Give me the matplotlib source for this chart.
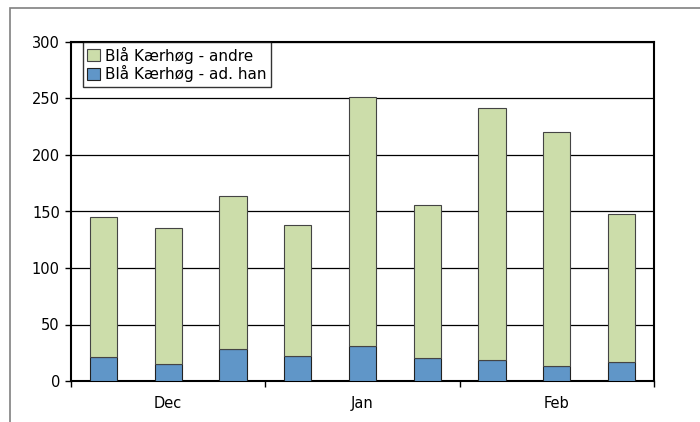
import matplotlib
matplotlib.use("Agg")
import matplotlib.pyplot as plt
from matplotlib.patches import Rectangle
import numpy as np

months = ["Dec", "Jan", "Feb"]
totals = [145, 135, 164, 138, 251, 156, 242, 220, 148]
adult_males = [21, 15, 28, 22, 31, 20, 19, 13, 17]
others = [t - a for t, a in zip(totals, adult_males)]
yticks = [0, 50, 100, 150, 200, 250, 300]

W, H = 700, 422
fig = plt.figure(figsize=(W / 100, H / 100), dpi=100)
plt.rcParams['font.family'] = ['DejaVu Sans']

# outer frame
fig.patches.append(Rectangle((10 / W, -0.1), 1.2, 1 - 8 / H + 0.1, transform=fig.transFigure,
                             fill=False, edgecolor='#808080', linewidth=1.2))

ax = fig.add_axes([71 / W, 1 - 381 / H, (654 - 71) / W, (381 - 42) / H])
x = np.arange(len(totals))
green = '#CCDDAA'
blue = '#6096C8'
ax.bar(x, adult_males, width=0.42, color=blue, edgecolor='#222222', linewidth=0.8,
       label='Blå Kærhøg - ad. han', zorder=3)
ax.bar(x, others, bottom=adult_males, width=0.42, color=green, edgecolor='#444444',
       linewidth=0.8, label='Blå Kærhøg - andre', zorder=3)

ax.set_xlim(-0.5, len(totals) - 0.5)
ax.set_ylim(0, 300)
ax.set_yticks(yticks)
ax.set_yticklabels([str(v) for v in yticks], fontsize=10.5)
ax.yaxis.grid(True, color='black', linewidth=0.9, zorder=0)
ax.set_axisbelow(True)

ax.set_xticks([-0.5, 2.5, 5.5, 8.5])
ax.set_xticklabels([])
ax.set_xticks([1, 4, 7], minor=True)
ax.set_xticklabels(months, minor=True, fontsize=10.5)
ax.tick_params(axis='x', which='minor', length=0, pad=11)
ax.tick_params(axis='x', which='major', direction='out', length=4, width=1)
ax.tick_params(axis='y', direction='out', length=4, width=1, pad=4)

for s in ax.spines.values():
    s.set_linewidth(1.5)
    s.set_color('black')

h, l = ax.get_legend_handles_labels()
leg = ax.legend(h[::-1], l[::-1], loc='upper left', bbox_to_anchor=(0.02, 1.0), fontsize=11,
                frameon=True, fancybox=False, edgecolor='black', borderpad=0.3,
                labelspacing=0.12, handlelength=0.85, handleheight=0.85, handletextpad=0.3,
                borderaxespad=0)
leg.get_frame().set_linewidth(1.0)

fig.savefig("out.png", dpi=100)
